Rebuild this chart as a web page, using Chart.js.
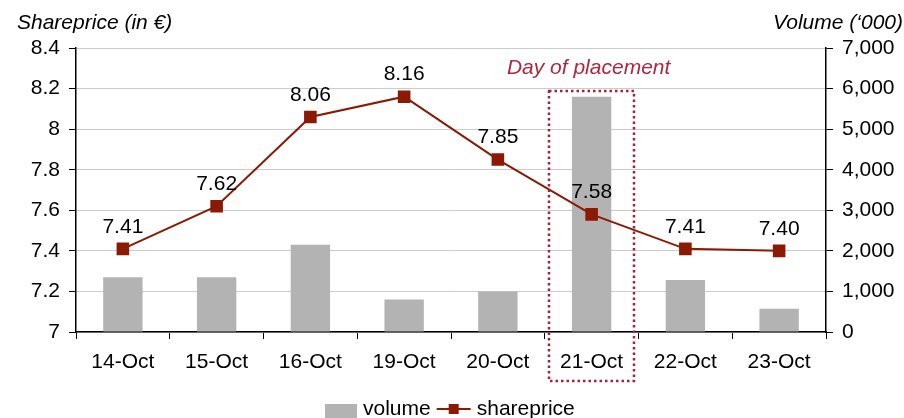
<!DOCTYPE html>
<html>
<head>
<meta charset="utf-8">
<title>Shareprice and volume</title>
<script src="https://cdn.jsdelivr.net/npm/chart.js@4.4.0/dist/chart.umd.min.js"></script>
<style>
  html, body { margin: 0; padding: 0; background: #fff; }
  #chart-container { width: 904px; height: 418px; }
</style>
</head>
<body>
<div id="chart-container"><canvas id="share-chart" width="904" height="418"></canvas></div>
<script>
/********************************
 *  data
 * ******************************/
var days = ['14-Oct', '15-Oct', '16-Oct', '19-Oct', '20-Oct', '21-Oct', '22-Oct', '23-Oct'];
var volume = [1350, 1350, 2150, 800, 1000, 5800, 1280, 570];      // '000 shares
var shareprice = [7.41, 7.62, 8.06, 8.16, 7.85, 7.58, 7.41, 7.40]; // in EUR
var priceTicks = [7, 7.2, 7.4, 7.6, 7.8, 8, 8.2, 8.4];
var volumeTicks = [0, 1000, 2000, 3000, 4000, 5000, 6000, 7000];
var placementDay = '21-Oct';

var FONT = '"Liberation Sans", Arial, sans-serif';
var FSIZE = 21;
var barColor = '#b3b3b3';
var lineColor = '#8b1a05';
var accent = '#ad2740';

/********************************
 *  labels, box, titles, legend
 * ******************************/
var decorations = {
    id: 'decorations',
    afterDatasetsDraw: function (chart) {
        var ctx = chart.ctx;
        var x = chart.scales.x;
        var yP = chart.scales.yPrice;
        var yV = chart.scales.yVolume;
        var area = chart.chartArea;
        ctx.save();

        // value labels above the share price points
        var meta = chart.getDatasetMeta(1);
        ctx.font = FSIZE + 'px ' + FONT;
        ctx.fillStyle = '#000';
        ctx.textAlign = 'center';
        ctx.textBaseline = 'middle';
        meta.data.forEach(function (pt, i) {
            ctx.fillText(shareprice[i].toFixed(2), pt.x, pt.y - 22);
        });

        // dotted box round the day of placement
        var idx = days.indexOf(placementDay);
        var cx = x.getPixelForValue(idx);
        var half = (x.width / days.length) * 0.45;
        var left = Math.round(cx - half);
        var right = Math.round(cx + half);
        var top = Math.round(yV.getPixelForValue(5950));
        var bottom = Math.round(area.bottom + 49);
        ctx.strokeStyle = '#a8203a';
        ctx.lineWidth = 2.5;
        ctx.setLineDash([2.5, 3]);
        ctx.strokeRect(left, top, right - left, bottom - top);
        ctx.setLineDash([]);
        ctx.font = 'italic ' + FSIZE + 'px ' + FONT;
        ctx.fillStyle = accent;
        ctx.fillText('Day of placement', cx - 3, yP.getPixelForValue(8.3));

        // axis titles
        ctx.fillStyle = '#000';
        ctx.textAlign = 'left';
        ctx.fillText('Shareprice (in \u20ac)', 17, 23);
        ctx.textAlign = 'right';
        ctx.fillText('Volume (\u2018000)', 903, 23);

        // legend
        ctx.font = FSIZE + 'px ' + FONT;
        ctx.textAlign = 'left';
        var ly = 409;
        var lx = 325;
        ctx.fillStyle = barColor;
        ctx.fillRect(lx, ly - 5, 32, 14);
        ctx.fillStyle = '#000';
        ctx.fillText('volume', lx + 38, ly);
        lx = lx + 38 + ctx.measureText('volume').width + 6;
        ctx.strokeStyle = lineColor;
        ctx.lineWidth = 2;
        ctx.beginPath();
        ctx.moveTo(lx, ly);
        ctx.lineTo(lx + 34, ly);
        ctx.stroke();
        ctx.fillStyle = lineColor;
        ctx.fillRect(lx + 12, ly - 5, 10, 10);
        ctx.fillStyle = '#000';
        ctx.fillText('shareprice', lx + 40, ly);

        ctx.restore();
    }
};

/********************************
 *  chart
 * ******************************/
var ctx = document.getElementById('share-chart').getContext('2d');
var myChart = new Chart(ctx, {
    type: 'bar',
    data: {
        labels: days,
        datasets: [
            {
                type: 'bar',
                label: 'volume',
                data: volume,
                yAxisID: 'yVolume',
                backgroundColor: barColor,
                borderWidth: 0,
                barPercentage: 0.42,
                categoryPercentage: 1,
                order: 2
            },
            {
                type: 'line',
                label: 'shareprice',
                data: shareprice,
                yAxisID: 'yPrice',
                borderColor: lineColor,
                backgroundColor: lineColor,
                borderWidth: 2,
                pointStyle: 'rect',
                pointRadius: 7.5,
                pointHoverRadius: 7.5,
                tension: 0,
                fill: false,
                order: 1
            }
        ]
    },
    options: {
        responsive: false,
        animation: false,
        events: [],
        layout: { padding: { top: 48, bottom: 0, left: 0, right: 0 } },
        plugins: {
            legend: { display: false },
            tooltip: { enabled: false },
            title: { display: false }
        },
        scales: {
            x: {
                offset: true,
                grid: {
                    offset: true,
                    drawOnChartArea: false,
                    tickLength: 7,
                    tickColor: '#000'
                },
                border: { color: '#000', width: 1.5 },
                ticks: {
                    color: '#000',
                    padding: 11,
                    maxRotation: 0,
                    font: { family: FONT, size: FSIZE }
                },
                afterFit: function (scale) { scale.height = 86; }
            },
            yPrice: {
                position: 'left',
                min: 7,
                max: 8.4,
                afterBuildTicks: function (scale) {
                    scale.ticks = priceTicks.map(function (v) { return { value: v }; });
                },
                grid: {
                    color: '#cccccc',
                    tickColor: '#000',
                    tickLength: 7
                },
                border: { color: '#000', width: 1.5 },
                ticks: {
                    color: '#000',
                    padding: 9,
                    font: { family: FONT, size: FSIZE },
                    callback: function (v) { return String(Math.round(v * 10) / 10); }
                },
                afterFit: function (scale) { scale.width = 76; }
            },
            yVolume: {
                position: 'right',
                min: 0,
                max: 7000,
                afterBuildTicks: function (scale) {
                    scale.ticks = volumeTicks.map(function (v) { return { value: v }; });
                },
                grid: {
                    drawOnChartArea: false,
                    tickColor: '#000',
                    tickLength: 7
                },
                border: { color: '#000', width: 1.5 },
                ticks: {
                    color: '#000',
                    padding: 9,
                    font: { family: FONT, size: FSIZE },
                    callback: function (v) { return v.toLocaleString('en-US'); }
                },
                afterFit: function (scale) { scale.width = 78; }
            }
        }
    },
    plugins: [decorations]
});
</script>
</body>
</html>
